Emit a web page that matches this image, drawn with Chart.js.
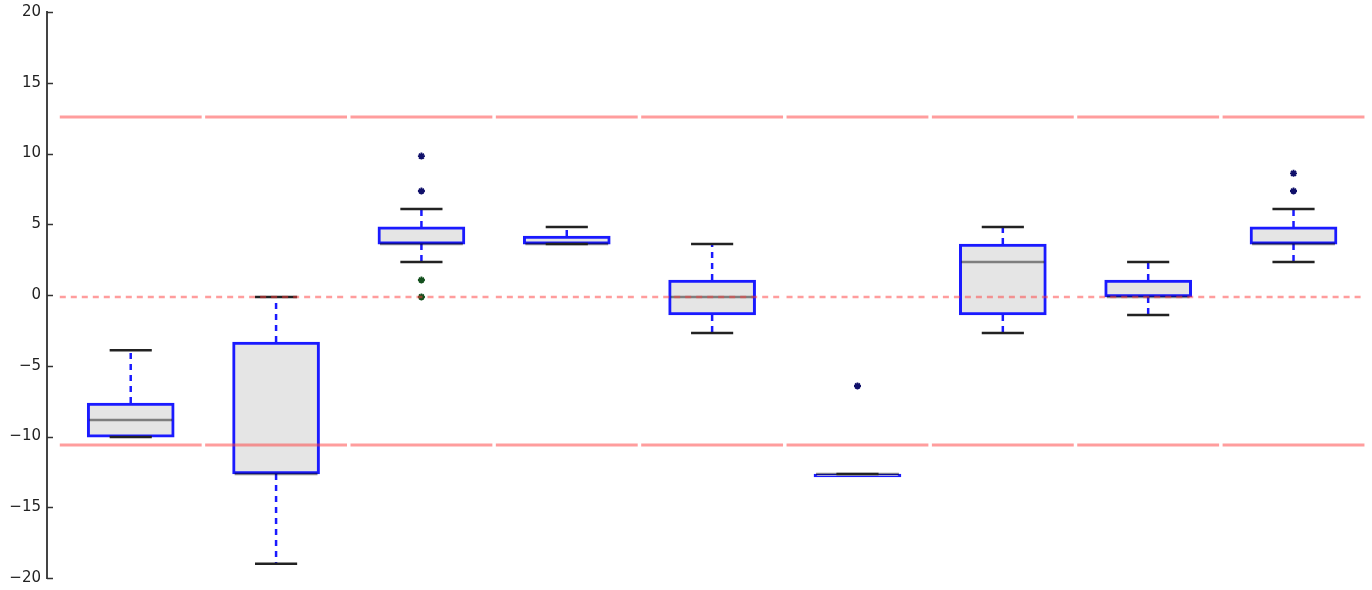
<!DOCTYPE html>
<html>
<head>
<meta charset="utf-8">
<script src="https://cdn.jsdelivr.net/npm/chart.js@4"></script>
<style>
  html, body { margin: 0; padding: 0; background: #fff; }
  #wrap { width: 1372px; height: 590px; }
</style>
</head>
<body>
<div id="wrap"><canvas id="box-chart"></canvas></div>
<script>
// box statistics, one entry per box
var whiskerHigh = [-3.9, -0.14, 6.08, 4.81, 3.6, -12.65, 4.81, 2.33, 6.08];
var upperQuart  = [-7.63, -3.32, 4.81, 4.17, 1.06, -12.65, 3.6, 1.06, 4.81];
var medians     = [-8.83, -12.65, 3.6, 3.6, -0.14, -12.65, 2.33, -0.14, 3.6];
var lowerQuart  = [-10.04, -12.65, 3.6, 3.6, -1.41, -12.65, -1.41, -0.14, 3.6];
var whiskerLow  = [-10.04, -19.0, 2.33, 3.6, -2.69, -12.65, -2.69, -1.41, 2.33];

// outliers: [box index, value]
var fliersHigh = [[2, 9.82], [2, 7.35], [5, -6.43], [8, 8.6], [8, 7.35]];
var fliersLow  = [[2, 1.06], [2, -0.14]];

// horizontal reference lines
var limitHigh = 12.58;
var centerLine = -0.14;
var limitLow = -10.6;

var yTicks = [-20, -15, -10, -5, 0, 5, 10, 15, 20];

var boxHalf = 0.295, capHalf = 0.145, refHalf = 0.488;

function segs(fn) {
    var out = [];
    for (var i = 0; i < whiskerHigh.length; i++) {
        var s = fn(i);
        for (var k = 0; k < s.length; k++) out.push(s[k]);
        out.push({ x: i, y: null });
    }
    return out;
}

function refSegs(v) {
    return segs(function (i) { return [{ x: i - refHalf, y: v }, { x: i + refHalf, y: v }]; });
}

var lineBase = { type: 'line', showLine: true, pointRadius: 0, spanGaps: false, fill: false, tension: 0 };

var insideTicks = {
    id: 'insideTicks',
    afterDatasetsDraw: function (chart) {
        var y = chart.scales.y, ctx = chart.ctx, x0 = chart.chartArea.left;
        ctx.save();
        ctx.strokeStyle = '#333';
        ctx.lineWidth = 1.5;
        for (var i = 0; i < yTicks.length; i++) {
            var py = Math.round(y.getPixelForValue(yTicks[i])) + 0.5;
            ctx.beginPath();
            ctx.moveTo(x0, py);
            ctx.lineTo(x0 + 6, py);
            ctx.stroke();
        }
        ctx.restore();
    }
};

new Chart(document.getElementById('box-chart'), {
    type: 'bar',
    data: {
        datasets: [
            Object.assign({}, lineBase, { order: 0, data: refSegs(limitHigh), borderColor: 'rgba(255,60,60,0.5)', borderWidth: 3 }),
            Object.assign({}, lineBase, { order: 0, data: refSegs(limitLow), borderColor: 'rgba(255,60,60,0.5)', borderWidth: 3 }),
            Object.assign({}, lineBase, { order: 0, data: refSegs(centerLine), borderColor: 'rgba(255,60,60,0.5)', borderWidth: 2.5, borderDash: [6, 5] }),
            {
                type: 'scatter', order: 1,
                data: fliersHigh.map(function (f) { return { x: f[0], y: f[1] }; }),
                pointStyle: 'star', pointRadius: 3.5, borderWidth: 1.8,
                borderColor: '#10106a', backgroundColor: '#10106a'
            },
            {
                type: 'scatter', order: 1,
                data: fliersLow.map(function (f) { return { x: f[0], y: f[1] }; }),
                pointStyle: 'star', pointRadius: 3.5, borderWidth: 1.8,
                borderColor: '#14501e', backgroundColor: '#14501e'
            },
            Object.assign({}, lineBase, {
                order: 2, borderColor: '#222', borderWidth: 2.5,
                data: segs(function (i) {
                    return [{ x: i - capHalf, y: whiskerHigh[i] }, { x: i + capHalf, y: whiskerHigh[i] }, { x: i, y: null },
                            { x: i - capHalf, y: whiskerLow[i] }, { x: i + capHalf, y: whiskerLow[i] }];
                })
            }),
            Object.assign({}, lineBase, {
                order: 3, borderColor: 'rgba(0,0,0,0.45)', borderWidth: 2.5,
                data: segs(function (i) {
                    return [{ x: i - boxHalf + 0.01, y: medians[i] }, { x: i + boxHalf - 0.01, y: medians[i] }];
                })
            }),
            {
                type: 'bar', order: 4,
                data: upperQuart.map(function (v, i) { return { x: i, y: [lowerQuart[i], v] }; }),
                backgroundColor: '#e5e5e5', borderColor: '#1a1aff', borderWidth: 3,
                borderSkipped: false, barThickness: 87, minBarLength: 3
            },
            Object.assign({}, lineBase, {
                order: 5, borderColor: '#1a1aff', borderWidth: 2.5, borderDash: [6, 5],
                data: segs(function (i) {
                    return [{ x: i, y: upperQuart[i] }, { x: i, y: whiskerHigh[i] }, { x: i, y: null },
                            { x: i, y: lowerQuart[i] }, { x: i, y: whiskerLow[i] }];
                })
            })
        ]
    },
    options: {
        responsive: true,
        maintainAspectRatio: false,
        animation: false,
        layout: { padding: { top: 12, bottom: 12, right: 5, left: 0 } },
        plugins: { legend: { display: false }, tooltip: { enabled: false } },
        scales: {
            x: { type: 'linear', display: false, offset: false, min: -0.576, max: 8.5 },
            y: {
                min: -20, max: 20,
                afterFit: function (s) { s.width = 47; s.paddingTop = 0; s.paddingBottom = 0; },
                afterBuildTicks: function (s) { s.ticks = yTicks.map(function (v) { return { value: v }; }); },
                border: { display: true, color: '#444', width: 2 },
                grid: { display: false, drawTicks: false },
                ticks: {
                    padding: 6,
                    color: '#222',
                    font: { family: 'DejaVu Sans', size: 15 },
                    callback: function (v) { return String(v).replace('-', '\u2212'); }
                }
            }
        }
    },
    plugins: [insideTicks]
});
</script>
</body>
</html>
